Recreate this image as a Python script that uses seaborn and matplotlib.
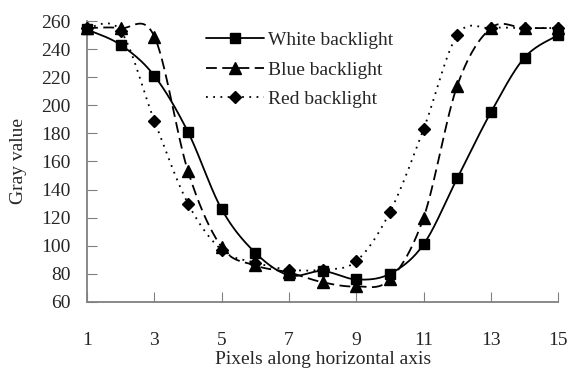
import matplotlib
matplotlib.use("Agg")
import matplotlib.pyplot as plt
from matplotlib.lines import Line2D
import numpy as np
import pandas as pd
import seaborn as sns

pixels = [1, 2, 3, 4, 5, 6, 7, 8, 9, 10, 11, 12, 13, 14, 15]
white = [254, 243, 221, 181, 126, 95, 79, 82, 76, 80, 101, 148, 195, 234, 250]
blue = [255, 255, 249, 153, 99, 86, 81, 74, 71, 76, 120, 214, 255, 255, 255]
red = [255, 253, 189, 130, 97, 88, 83, 83, 89, 124, 183, 250, 255, 255, 255]
series_names = ["White backlight", "Blue backlight", "Red backlight"]


def smooth(xs, ys, n=30):
    # Excel-style smoothed line (Catmull-Rom Bezier through the points)
    xs = np.asarray(xs, float)
    ys = np.asarray(ys, float)
    px = np.concatenate([[xs[0]], xs, [xs[-1]]])
    py = np.concatenate([[ys[0]], ys, [ys[-1]]])
    out_x, out_y = [], []
    t = np.linspace(0, 1, n, endpoint=False)
    for i in range(1, len(px) - 2):
        p0 = np.array([px[i], py[i]])
        p3 = np.array([px[i + 1], py[i + 1]])
        c1 = p0 + (p3 - np.array([px[i - 1], py[i - 1]])) / 6
        c2 = p3 - (np.array([px[i + 2], py[i + 2]]) - p0) / 6
        b = ((1 - t) ** 3)[:, None] * p0 + (3 * (1 - t) ** 2 * t)[:, None] * c1 \
            + (3 * (1 - t) * t ** 2)[:, None] * c2 + (t ** 3)[:, None] * p3
        out_x.extend(b[:, 0])
        out_y.extend(b[:, 1])
    out_x.append(xs[-1])
    out_y.append(ys[-1])
    return out_x, out_y


sns.set_style("ticks")
plt.rcParams["font.family"] = ["Liberation Serif", "DejaVu Serif"]
plt.rcParams["font.size"] = 14

fig = plt.figure(figsize=(5.69, 3.76), dpi=100)
ax = fig.add_axes([0.153, 0.197, 0.828, 0.747])

styles = [
    dict(ls="-", marker="s", ms=7.5),
    dict(ls=(0, (6, 3)), marker="^", ms=8),
    dict(ls=(0, (1, 3)), marker="D", ms=6.5),
]
handles = []
for name, vals, st in zip(series_names, [white, blue, red], styles):
    sx, sy = smooth(pixels, vals)
    curve = pd.DataFrame({"x": sx, "y": sy})
    sns.lineplot(data=curve, x="x", y="y", ax=ax, color="black", lw=1.3,
                 linestyle=st["ls"], sort=False, estimator=None)
    pts = pd.DataFrame({"x": pixels, "y": vals})
    ax.plot(pts["x"], pts["y"], linestyle="none", marker=st["marker"],
            ms=st["ms"], color="black", clip_on=False, zorder=3)
    handles.append(Line2D([], [], color="black", lw=1.3, linestyle=st["ls"],
                          marker=st["marker"], ms=st["ms"]))

ax.legend(handles, series_names, loc="upper left", bbox_to_anchor=(0.235, 0.99),
          frameon=False, handlelength=3.0, handletextpad=0.2, labelspacing=0.6,
          fontsize=14, borderaxespad=0)

ax.set_xlim(1, 15)
ax.set_ylim(60, 260)
ax.set_xticks([1, 3, 5, 7, 9, 11, 13, 15])
ax.set_yticks(range(60, 261, 20))
ax.tick_params(axis="x", direction="in", length=7, pad=22, color="#808080", labelsize=14)
ax.tick_params(axis="y", direction="in", length=7, pad=12, color="#808080", labelsize=14)
for s in ["top", "right"]:
    ax.spines[s].set_visible(False)
for s in ["left", "bottom"]:
    ax.spines[s].set_color("#808080")
    ax.spines[s].set_linewidth(1.3)
ax.set_xlabel("Pixels along horizontal axis", fontsize=14, labelpad=1)
ax.set_ylabel("Gray value", fontsize=14, labelpad=10)

fig.savefig("out.png", dpi=100)
